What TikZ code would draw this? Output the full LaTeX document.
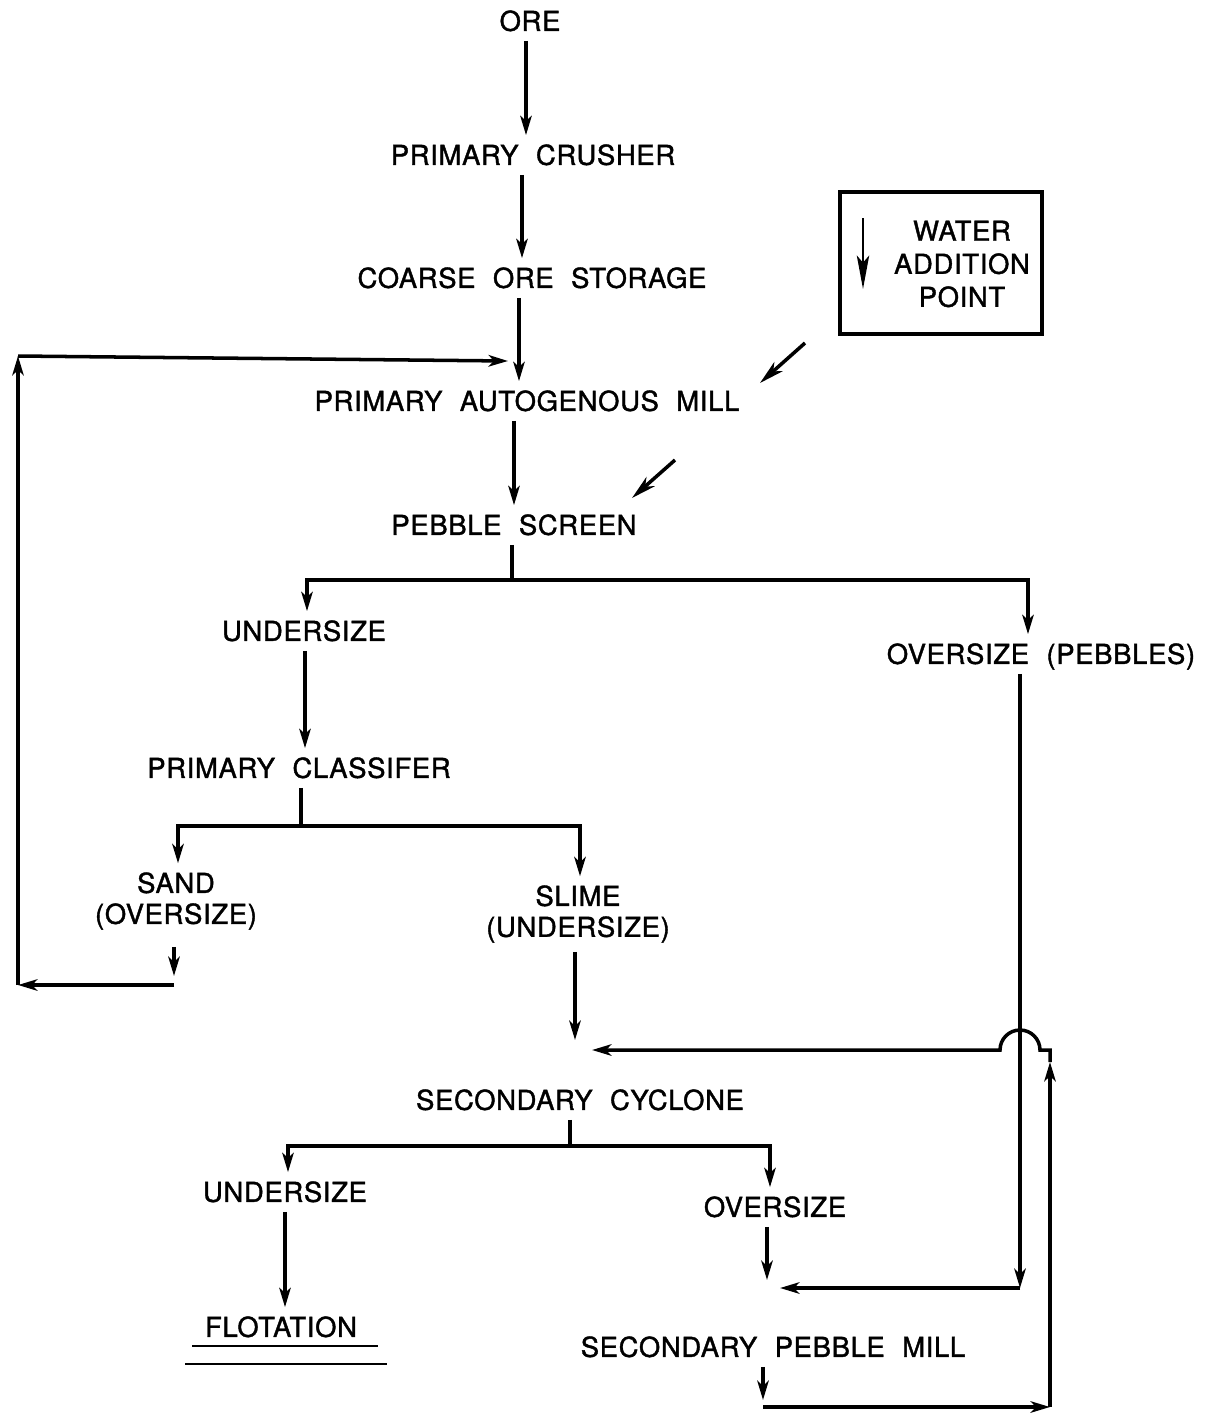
\documentclass[tikz,border=0pt]{standalone}
\usepackage{fontspec}
\setmainfont[WordSpace=2.1,FakeBold=1.4,LetterSpace=2.5]{TeX Gyre Heros}
\usetikzlibrary{arrows.meta}
\begin{document}
\begin{tikzpicture}[x=0.02cm,y=-0.02cm,
  lbl/.style={font=\fontsize{15.6}{17.6}\selectfont, inner xsep=1pt, inner ysep=5.5pt, text height=11.2pt, text depth=0pt},
  lbltwo/.style={font=\fontsize{15.6}{17.6}\selectfont, align=center, inner xsep=1pt, inner ysep=5pt},
  ln/.style={line width=2pt, line join=miter},
  arr/.style={ln, -{Stealth[length=11pt,width=6.5pt,inset=3pt]}},
  barr/.style={ln, {Stealth[length=11pt,width=6.5pt,inset=3pt]}-{Stealth[length=11pt,width=6.5pt,inset=3pt]}},
  warr/.style={line width=2pt, -{Stealth[length=14pt,width=7pt,inset=4pt]}},
]
\useasboundingbox (0,0) rectangle (1215,1418);

% nodes
\node[lbl] (ore) at (530,21) {ORE};
\node[lbl] (crusher) at (533,155) {PRIMARY CRUSHER};
\node[lbl] (storage) at (532,278) {COARSE ORE STORAGE};
\node[lbl] (mill) at (527,401) {PRIMARY AUTOGENOUS MILL};
\node[lbl] (screen) at (514,525) {PEBBLE SCREEN};
\node[lbl] (under1) at (304,631) {UNDERSIZE};
\node[lbl] (over1) at (1041,654) {OVERSIZE (PEBBLES)};
\node[lbl] (classifier) at (299,768) {PRIMARY CLASSIFER};
\node[lbltwo] (sand) at (176,901) {SAND\\(OVERSIZE)};
\node[lbltwo] (slime) at (578,914) {SLIME\\(UNDERSIZE)};
\node[lbl] (cyclone) at (580,1100) {SECONDARY CYCLONE};
\node[lbl] (under2) at (285,1192) {UNDERSIZE};
\node[lbl] (over2) at (775,1207) {OVERSIZE};
\node[lbl] (flot) at (281,1327) {FLOTATION};
\node[lbl] (pmill) at (773,1347) {SECONDARY PEBBLE MILL};

% legend box
\node[draw, line width=1.8pt, minimum width=202*0.02cm, minimum height=142*0.02cm, inner sep=0pt] (legend) at (941,263) {};
\node[lbltwo, font=\fontsize{15.6}{18.8}\selectfont] (legtext) at (962,264) {WATER\\ADDITION\\POINT};
\coordinate (lega) at (863,218);
\coordinate (legb) at (863,289);
\draw[line width=1.6pt, -{Stealth[length=19pt,width=7pt,inset=4pt]}] (lega) -- (legb);

% main column
\draw[arr] (ore.south -| 526,0) -- (526,0 |- crusher.north);
\draw[arr] (crusher.south -| 522,0) -- (522,0 |- storage.north);
\draw[arr] (storage.south -| 519,0) -- (519,0 |- mill.north);
\draw[arr] (mill.south -| 514,0) -- (514,0 |- screen.north);

% water addition arrows
\coordinate (w1a) at (805,343); \coordinate (w1b) at (760,383);
\coordinate (w2a) at (675,460); \coordinate (w2b) at (632,498);
\draw[warr] (w1a) -- (w1b);
\draw[warr] (w2a) -- (w2b);

% pebble screen split
\draw[ln] (screen.south -| 512,0) -- (512,580);
\draw[barr] (307,0 |- under1.north) -- (307,580) -- (1028,580) -- (1028,0 |- over1.north);

% undersize -> classifier
\draw[arr] (under1.south -| 305,0) -- (305,0 |- classifier.north);

% classifier split
\draw[ln] (classifier.south -| 301,0) -- (301,826);
\draw[barr] (178,0 |- sand.north) -- (178,826) -- (580,826) -- (580,0 |- slime.north);

% sand recycle loop
\coordinate (s1) at (174,976);
\coordinate (l1) at (174,985);
\coordinate (l2) at (18,985);
\coordinate (l3) at (18,356);
\coordinate (l4) at (508,361);
\draw[arr] (sand.south -| s1) ++(0,8) -- (s1);
\draw[arr] (l1) -- (l2);
\draw[arr] (l2) -- (l3);
\draw[arr] (l3) -- (l4);

% slime -> cyclone feed
\coordinate (cin) at (575,1040);
\draw[arr] (slime.south -| cin) -- (cin);

% pebble mill return with hump
\coordinate (r0) at (763,1400);
\coordinate (r1) at (763,1407);
\coordinate (r2) at (1050,1407);
\coordinate (r3) at (1050,1062);
\coordinate (r4) at (1050,1050);
\coordinate (rin) at (592,1050);
\draw[arr] (pmill.south -| r0) -- (r0);
\draw[arr] (r1) -- (r2);
\draw[arr] (r2) -- (r3);
\draw[arr] (r3) -- (r4) -- (1040,1050) arc[start angle=0, end angle=180, radius=0.4cm] -- (rin);

% pebbles -> pebble mill
\coordinate (p1) at (1020,1288);
\coordinate (pin) at (780,1288);
\draw[arr] (over1.south -| p1) -- (p1);
\draw[arr] (p1) -- (pin);

% cyclone split
\draw[ln] (cyclone.south -| 570,0) -- (570,1146);
\draw[barr] (288,0 |- under2.north) -- (288,1146) -- (770,1146) -- (770,0 |- over2.north);

% undersize -> flotation
\draw[arr] (under2.south -| 285,0) -- (285,0 |- flot.north);

% oversize -> pebble mill feed
\coordinate (oin) at (767,1280);
\draw[arr] (over2.south -| oin) -- (oin);

% flotation underline
\coordinate (u1a) at (192,1346); \coordinate (u1b) at (378,1346);
\coordinate (u2a) at (185,1364); \coordinate (u2b) at (387,1364);
\draw[line width=1.6pt] (u1a) -- (u1b);
\draw[line width=1.6pt] (u2a) -- (u2b);
\end{tikzpicture}
\end{document}
